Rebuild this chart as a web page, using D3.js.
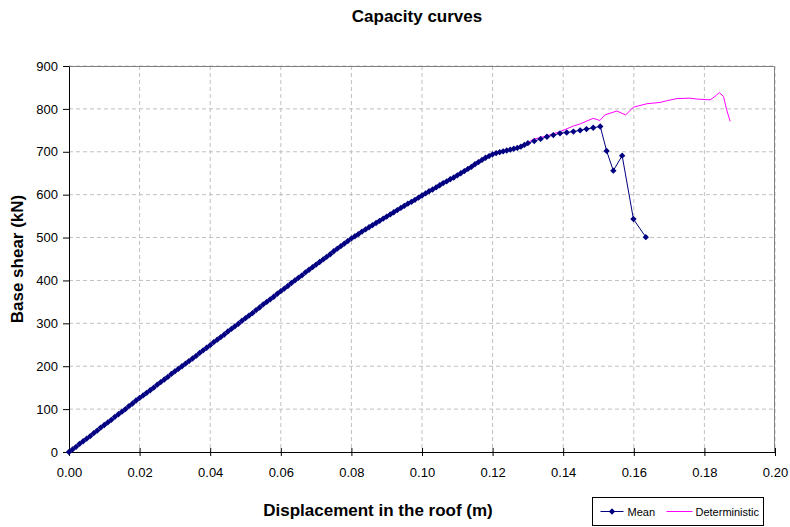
<!DOCTYPE html>
<html>
<head>
<meta charset="utf-8">
<script src="https://cdn.jsdelivr.net/npm/d3@7"></script>
<style>
  body { margin: 0; background: #fff; }
  text { font-family: Arial, "Liberation Sans", sans-serif; }
</style>
</head>
<body>
<svg id="chart"></svg>
<script>
const outerWidth = 790;
const outerHeight = 527;
const margin = { top: 66, right: 15, bottom: 75, left: 69 };
const width = outerWidth - margin.left - margin.right;
const height = outerHeight - margin.top - margin.bottom;

// Mean capacity curve (displacement m, base shear kN)
const meanDisp = [
    0.000, 0.001, 0.002, 0.003, 0.004, 0.005, 0.006, 0.007, 0.008, 0.009,
    0.010, 0.011, 0.012, 0.013, 0.014, 0.015, 0.016, 0.017, 0.018, 0.019,
    0.020, 0.021, 0.022, 0.023, 0.024, 0.025, 0.026, 0.027, 0.028, 0.029,
    0.030, 0.031, 0.032, 0.033, 0.034, 0.035, 0.036, 0.037, 0.038, 0.039,
    0.040, 0.041, 0.042, 0.043, 0.044, 0.045, 0.046, 0.047, 0.048, 0.049,
    0.050, 0.051, 0.052, 0.053, 0.054, 0.055, 0.056, 0.057, 0.058, 0.059,
    0.060, 0.061, 0.062, 0.063, 0.064, 0.065, 0.066, 0.067, 0.068, 0.069,
    0.070, 0.071, 0.072, 0.073, 0.074, 0.075, 0.076, 0.077, 0.078, 0.079,
    0.080, 0.081, 0.082, 0.083, 0.084, 0.085, 0.086, 0.087, 0.088, 0.089,
    0.090, 0.091, 0.092, 0.093, 0.094, 0.095, 0.096, 0.097, 0.098, 0.099,
    0.100, 0.101, 0.102, 0.103, 0.104, 0.105, 0.106, 0.107, 0.108, 0.109,
    0.110, 0.111, 0.112, 0.113, 0.114, 0.115, 0.116, 0.117, 0.118, 0.119,
    0.120, 0.121, 0.122, 0.123, 0.124, 0.125, 0.126, 0.127, 0.128, 0.129,
    0.130, 0.1318, 0.1336, 0.1354, 0.1372, 0.1391, 0.1410, 0.1429, 0.1448, 0.1466,
    0.1485, 0.1505,
    0.1523, 0.1542, 0.1567, 0.1599, 0.1634
];
const meanShear = [
    0, 6, 12, 19, 25, 31, 37, 44, 50, 57,
    63, 69, 75, 82, 88, 94, 100, 107, 113, 120,
    126, 132, 138, 144, 150, 157, 163, 169, 175, 182,
    188, 194, 200, 206, 212, 218, 224, 231, 237, 243,
    249, 256, 262, 268, 274, 281, 287, 293, 299, 306,
    312, 318, 324, 331, 337, 344, 350, 356, 362, 369,
    375, 381, 387, 394, 400, 406, 412, 419, 425, 431,
    437, 443, 449, 455, 461, 468, 474, 480, 486, 492,
    498, 503, 508, 514, 519, 524, 529, 534, 539, 544,
    549, 554, 559, 564, 569, 574, 579, 583, 588, 593,
    598, 603, 608, 612, 617, 622, 627, 631, 636, 640,
    645, 650, 655, 660, 665, 671, 676, 681, 686, 690,
    694, 697, 699, 701, 703, 705, 707, 709, 712, 716,
    720, 725, 730, 735, 739, 743, 745, 747, 750, 753,
    756, 759,
    702, 656, 691, 543, 501
];

// Deterministic capacity curve
const detDisp = [
    0.000, 0.020, 0.040, 0.060, 0.080, 0.100, 0.110, 0.120, 0.126, 0.130,
    0.1315, 0.1353, 0.1391, 0.1429, 0.1448, 0.1485, 0.1504, 0.1518, 0.1552, 0.1577,
    0.1599, 0.1637, 0.1674, 0.1693, 0.1722, 0.1759, 0.1778, 0.1816, 0.1830, 0.1842,
    0.1854, 0.1863, 0.1873
];
const detShear = [
    0, 126, 249, 375, 498, 598, 645, 694, 708, 721,
    729, 737, 747, 760, 765, 778, 773, 786, 795, 786,
    804, 812, 815, 819, 824, 825, 823, 821, 829, 838,
    829, 798, 771
];

const xTicks = [0, 0.02, 0.04, 0.06, 0.08, 0.10, 0.12, 0.14, 0.16, 0.18, 0.20];
const yTicks = [0, 100, 200, 300, 400, 500, 600, 700, 800, 900];

const meanData = meanDisp.map((d, i) => ({ x: d, y: meanShear[i] }));
const detData = detDisp.map((d, i) => ({ x: d, y: detShear[i] }));

const chartSvg = d3.select("#chart")
    .attr("width", outerWidth)
    .attr("height", outerHeight);

chartSvg.append("rect")
    .attr("width", outerWidth)
    .attr("height", outerHeight)
    .attr("fill", "#fff");

const svg = chartSvg.append("g")
    .attr("transform", `translate(${margin.left},${margin.top})`);

const x = d3.scaleLinear().domain([0, 0.2]).range([0, width]);
const y = d3.scaleLinear().domain([0, 900]).range([height, 0]);

// grid
svg.append("g").selectAll("line")
    .data(yTicks.slice(1))
    .enter().append("line")
    .attr("x1", 0).attr("x2", width)
    .attr("y1", d => y(d)).attr("y2", d => y(d))
    .attr("stroke", "#c0c0c0")
    .attr("stroke-dasharray", "4,3");

svg.append("g").selectAll("line")
    .data(xTicks.slice(1))
    .enter().append("line")
    .attr("x1", d => x(d)).attr("x2", d => x(d))
    .attr("y1", 0).attr("y2", height)
    .attr("stroke", "#c0c0c0")
    .attr("stroke-dasharray", "4,3");

// plot border (top/right)
svg.append("path")
    .attr("d", `M0,0.5H${width - 0.5}V${height}`)
    .attr("fill", "none")
    .attr("stroke", "#808080");

// axes
const xAxis = svg.append("g")
    .attr("transform", `translate(0,${height})`)
    .call(d3.axisBottom(x).tickValues(xTicks).tickFormat(d3.format(".2f")).tickSize(4).tickPadding(12));
xAxis.select(".domain").attr("stroke", "#000");
xAxis.selectAll(".tick line").attr("y1", -4).attr("y2", 4);
xAxis.selectAll("text").style("font-size", "13px").attr("fill", "#000");

const yAxis = svg.append("g")
    .call(d3.axisLeft(y).tickValues(yTicks).tickSize(6).tickPadding(5).tickSizeOuter(0));
yAxis.selectAll("text").style("font-size", "13px").attr("fill", "#000");

// lines
const line = d3.line().x(d => x(d.x)).y(d => y(d.y));

svg.append("path")
    .datum(meanData)
    .attr("fill", "none")
    .attr("stroke", "#000080")
    .attr("stroke-width", 1)
    .attr("d", line);

svg.append("path")
    .datum(detData)
    .attr("fill", "none")
    .attr("stroke", "#ff00ff")
    .attr("stroke-width", 1)
    .attr("d", line);

// diamond = square turned 45 degrees
const diamond = d3.symbol().type(d3.symbolSquare).size(20);

svg.append("g").selectAll("path")
    .data(meanData)
    .enter().append("path")
    .attr("transform", d => `translate(${x(d.x)},${y(d.y)}) rotate(45)`)
    .attr("d", diamond)
    .attr("fill", "#000080");

// titles
chartSvg.append("text")
    .attr("x", 417)
    .attr("y", 22)
    .attr("text-anchor", "middle")
    .style("font-size", "17px")
    .style("font-weight", "bold")
    .text("Capacity curves");

chartSvg.append("text")
    .attr("x", 378)
    .attr("y", 516)
    .attr("text-anchor", "middle")
    .style("font-size", "17px")
    .style("font-weight", "bold")
    .text("Displacement in the roof (m)");

chartSvg.append("text")
    .attr("transform", `translate(23, ${margin.top + height / 2}) rotate(-90)`)
    .attr("text-anchor", "middle")
    .style("font-size", "17px")
    .style("font-weight", "bold")
    .text("Base shear (kN)");

// legend
const legend = chartSvg.append("g")
    .attr("transform", "translate(592.5,497.5)");

legend.append("rect")
    .attr("width", 171)
    .attr("height", 28)
    .attr("fill", "#fff")
    .attr("stroke", "#000");

legend.append("line")
    .attr("x1", 8).attr("x2", 31).attr("y1", 14).attr("y2", 14)
    .attr("stroke", "#000080");
legend.append("path")
    .attr("transform", "translate(19.5,14) rotate(45)")
    .attr("d", diamond)
    .attr("fill", "#000080");
legend.append("text")
    .attr("x", 35).attr("y", 18)
    .style("font-size", "11px")
    .text("Mean");

legend.append("line")
    .attr("x1", 74).attr("x2", 100).attr("y1", 14).attr("y2", 14)
    .attr("stroke", "#ff00ff");
legend.append("text")
    .attr("x", 103).attr("y", 18)
    .style("font-size", "11px")
    .text("Deterministic");
</script>
</body>
</html>
